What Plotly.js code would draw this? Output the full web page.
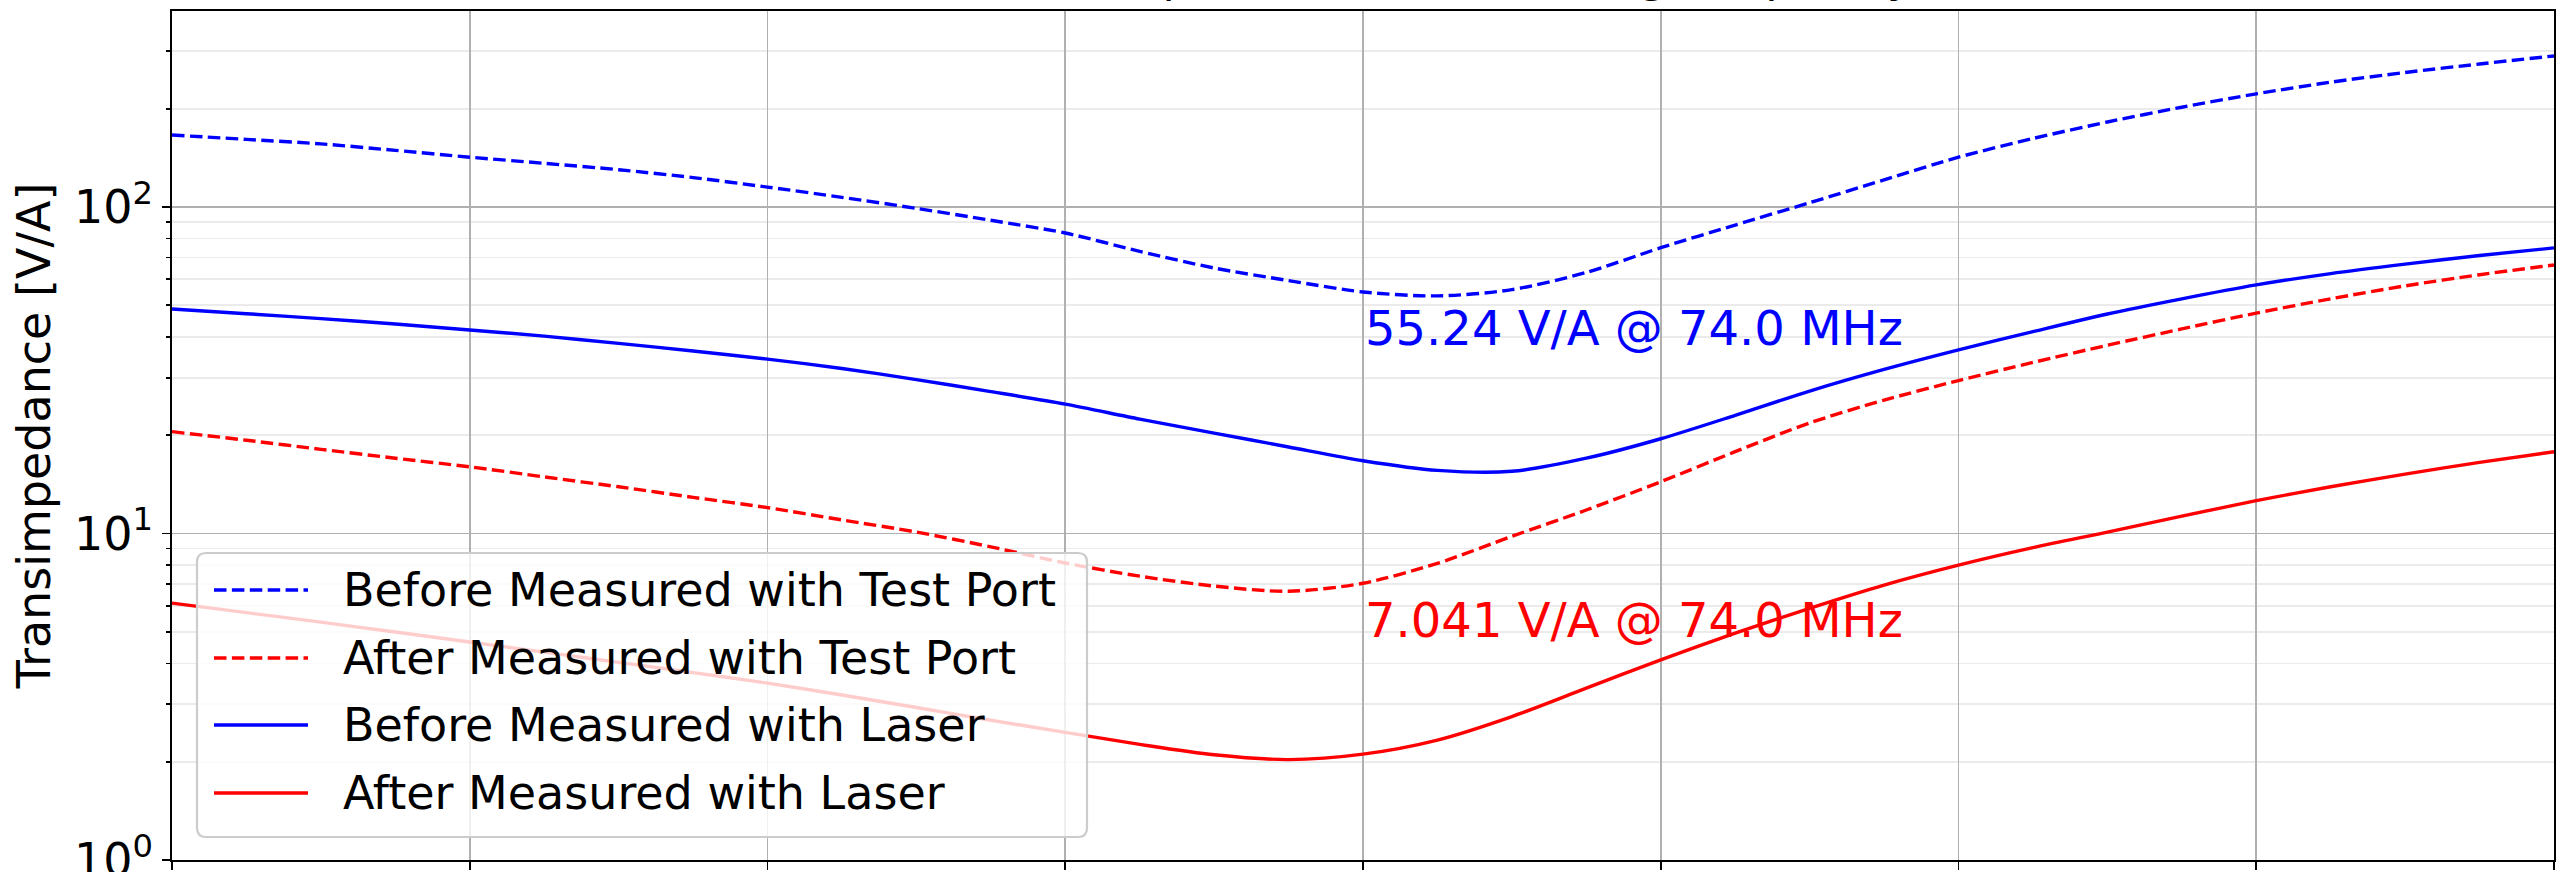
<!DOCTYPE html>
<html>
<head>
<meta charset="utf-8">
<script src="https://cdn.plot.ly/plotly-3.0.1.min.js"></script>
<style>html,body{margin:0;padding:0;background:#fff;overflow:hidden}</style>
</head>
<body>
<div id="chart" style="width:2572px;height:872px"></div>
<script>
// ---------------- data ----------------
const freqMHz = [66,66.5,67,67.5,68,68.5,69,69.5,70,70.5,71,71.5,72,72.5,73,73.5,74,74.5,75,75.5,76,76.5,77,77.5,78,78.5,79,79.5,80,80.5,81,81.5,82];
const beforeTestPort = [166,161,156,149,142,136,130,123,115,107,99,91,83.2,73.1,65,59.5,54.9,53.4,55.8,63,75,88,103,121,142,162,182,202,222,241,258,274,290];
const afterTestPort = [20.5,19.3,18.1,17.0,16.0,14.9,13.9,12.9,12.0,11.0,10.1,9.1,8.12,7.4,6.9,6.65,7.04,8.1,9.8,11.8,14.4,17.8,21.8,25.6,29.4,33.4,37.7,42.3,47.3,52.3,57.3,62,66.4];
const beforeLaser = [48.7,47.1,45.5,43.8,42.0,40.2,38.2,36.2,34.2,32.0,29.6,27.2,24.9,22.4,20.3,18.4,16.7,15.6,15.5,17.0,19.5,23.0,27.3,31.8,36.5,41.5,47.0,52.3,57.7,62.5,66.8,71.0,74.9];
const afterLaser = [6.12,5.72,5.35,4.99,4.65,4.33,4.03,3.75,3.48,3.2,2.93,2.68,2.46,2.26,2.1,2.03,2.11,2.33,2.75,3.36,4.1,4.95,5.9,6.95,8.0,9.05,10.1,11.3,12.6,13.9,15.2,16.5,17.8];
const seriesNames = ['Before Measured with Test Port','After Measured with Test Port','Before Measured with Laser','After Measured with Laser'];
const markerFreq = 74.0;
const markerBefore = 55.24;
const markerAfter = 7.041;
const xTickVals = [66,68,70,72,74,76,78,80,82];
const yTickVals = [1,10,100];
const yTickText = ['10<sup>0</sup>','10<sup>1</sup>','10<sup>2</sup>'];
const yMinorVals = [2,3,4,5,6,7,8,9,20,30,40,50,60,70,80,90,200,300];
const titleText = 'Overall Transimpedance vs Increasing Frequency';
const yTitleText = 'Transimpedance [V/A]';

// ---------------- styling ----------------
const W = 2572, H = 872;
const M = {l:172, r:18, t:11, b:12};
const plotW = W - M.l - M.r, plotH = H - M.t - M.b;
const FONT = 'DejaVu Sans, Verdana, sans-serif';
const BLUE = '#0000ff', RED = '#ff0000';
const DASH = '12.5px,5.4px';
const LW = 3.4;
const px2x = px => (px - M.l) / plotW;
const px2y = py => (H - M.b - py) / plotH;

const traces = [
  {x: freqMHz, y: beforeTestPort, name: seriesNames[0], line: {color: BLUE, width: LW, dash: DASH, shape: 'spline', smoothing: 0.8}},
  {x: freqMHz, y: afterTestPort, name: seriesNames[1], line: {color: RED, width: LW, dash: DASH, shape: 'spline', smoothing: 0.8}},
  {x: freqMHz, y: beforeLaser, name: seriesNames[2], line: {color: BLUE, width: LW, shape: 'spline', smoothing: 0.8}},
  {x: freqMHz, y: afterLaser, name: seriesNames[3], line: {color: RED, width: LW, shape: 'spline', smoothing: 0.8}}
].map(t => Object.assign({type: 'scatter', mode: 'lines', showlegend: false, hoverinfo: 'skip'}, t));

// custom legend (matplotlib look)
const LG = {x0: 197, x1: 1087, y0: 553, y1: 837, r: 9, sx0: 214, sx1: 308, tx: 341, rows: [590, 658, 725, 793]};
const legendStyles = [{c: BLUE, d: DASH}, {c: RED, d: DASH}, {c: BLUE, d: 'solid'}, {c: RED, d: 'solid'}];
function roundRect(g) {
  const X0 = px2x(g.x0), X1 = px2x(g.x1), YT = px2y(g.y0), YB = px2y(g.y1);
  const rx = g.r / plotW, ry = g.r / plotH;
  return `M${X0+rx},${YT} L${X1-rx},${YT} Q${X1},${YT} ${X1},${YT-ry} L${X1},${YB+ry} Q${X1},${YB} ${X1-rx},${YB} ` +
         `L${X0+rx},${YB} Q${X0},${YB} ${X0},${YB+ry} L${X0},${YT-ry} Q${X0},${YT} ${X0+rx},${YT} Z`;
}
const shapes = [{
  type: 'path', xref: 'paper', yref: 'paper', layer: 'above', path: roundRect(LG),
  fillcolor: 'rgba(255,255,255,0.8)', line: {color: '#cccccc', width: 2.2}
}];
const annotations = [];
seriesNames.forEach((nm, i) => {
  shapes.push({type: 'line', xref: 'paper', yref: 'paper', layer: 'above',
    x0: px2x(LG.sx0), x1: px2x(LG.sx1), y0: px2y(LG.rows[i]), y1: px2y(LG.rows[i]),
    line: {color: legendStyles[i].c, width: LW, dash: legendStyles[i].d}});
  annotations.push({xref: 'paper', yref: 'paper', x: px2x(LG.tx), y: px2y(LG.rows[i]),
    xanchor: 'left', yanchor: 'middle', showarrow: false, text: nm,
    font: {family: FONT, size: 46, color: '#000'}});
});
annotations.push({x: markerFreq, y: Math.log10(markerBefore), xref: 'x', yref: 'y', xanchor: 'left', yanchor: 'top',
  yshift: -7, showarrow: false, text: `${markerBefore} V/A @ ${markerFreq.toFixed(1)} MHz`,
  font: {family: FONT, size: 48, color: BLUE}});
annotations.push({x: markerFreq, y: Math.log10(markerAfter), xref: 'x', yref: 'y', xanchor: 'left', yanchor: 'top',
  yshift: -7, showarrow: false, text: `${markerAfter} V/A @ ${markerFreq.toFixed(1)} MHz`,
  font: {family: FONT, size: 48, color: RED}});

const axisCommon = {
  showline: true, linecolor: '#000', linewidth: 1.8, mirror: true,
  ticks: 'outside', ticklen: 8, tickwidth: 1.8, tickcolor: '#000',
  showgrid: true, gridcolor: '#b0b0b0', gridwidth: 1.8, zeroline: false,
  tickfont: {family: FONT, size: 46, color: '#000'}
};

const layout = {
  width: W, height: H, margin: M,
  paper_bgcolor: '#fff', plot_bgcolor: '#fff',
  font: {family: FONT, color: '#000'},
  showlegend: false,
  title: {text: titleText, font: {family: FONT, size: 45, color: '#000'},
    x: 0.5, xref: 'paper', xanchor: 'center', y: 1, yref: 'paper', yanchor: 'bottom', pad: {b: 19}},
  xaxis: Object.assign({}, axisCommon, {
    range: [66, 82], tickmode: 'array', tickvals: xTickVals, showticklabels: false
  }),
  yaxis: Object.assign({}, axisCommon, {
    type: 'log', range: [0, 2.6],
    tickmode: 'array', tickvals: yTickVals, ticktext: yTickText, ticklabeloverflow: 'allow',
    minor: {tickmode: 'array', tickvals: yMinorVals, showgrid: true, gridcolor: '#ebebeb', gridwidth: 1.8,
            ticks: 'outside', ticklen: 4.5, tickwidth: 1.8, tickcolor: '#000'},
    title: {text: yTitleText, font: {family: FONT, size: 46}, standoff: 9}
  }),
  shapes: shapes,
  annotations: annotations
};

Plotly.newPlot('chart', traces, layout, {staticPlot: true, displayModeBar: false});
</script>
</body>
</html>
